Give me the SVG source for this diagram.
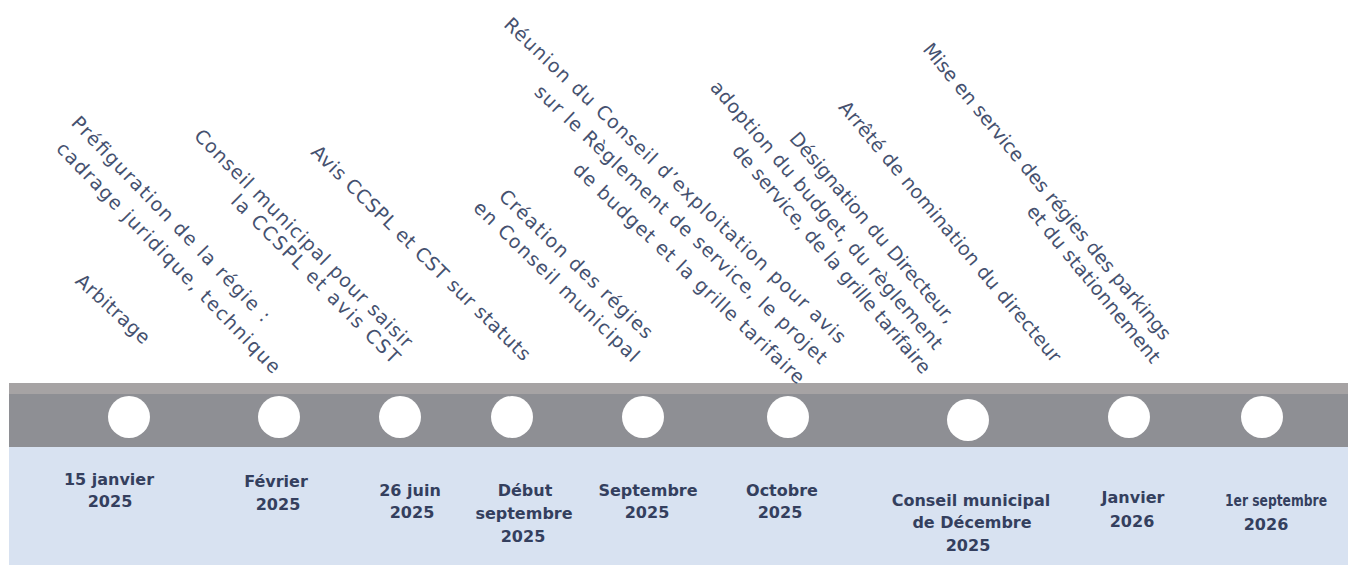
<svg xmlns="http://www.w3.org/2000/svg" width="1348" height="565" viewBox="0 0 1348 565">
<style>
.desc{font-family:"DejaVu Sans","Liberation Sans",sans-serif;font-size:19px;fill:#45516f;text-anchor:middle}
.date{font-family:"DejaVu Sans","Liberation Sans",sans-serif;font-size:16px;font-weight:bold;fill:#343f5e;text-anchor:middle}
.dot{fill:#ffffff}
</style>
<rect x="0" y="0" width="1348" height="565" fill="#ffffff"/>
<g id="timeline-bar">
<rect x="9" y="383" width="1339" height="64" fill="#8e8f94"/>
<rect x="9" y="383" width="1339" height="11" fill="#a6a3a4"/>
<rect x="9" y="447" width="1339" height="118" fill="#d8e2f1"/>
</g>
<g id="m1">
<circle class="dot" cx="129" cy="417" r="21"/>
<text class="date" x="109" y="485">15 janvier</text>
<text class="date" x="110" y="507">2025</text>
<text class="desc" transform="translate(112,310) rotate(42.5)" y="5" textLength="93" lengthAdjust="spacing">Arbitrage</text>
</g>
<g id="m2">
<circle class="dot" cx="279" cy="417" r="21"/>
<text class="date" x="276" y="487">Février</text>
<text class="date" x="278" y="510">2025</text>
<text class="desc" transform="translate(170,220) rotate(46)" y="5" textLength="277" lengthAdjust="spacing">Préfiguration de la régie :</text>
<text class="desc" transform="translate(167.5,258.5) rotate(46)" y="5" textLength="313" lengthAdjust="spacing">cadrage juridique, technique</text>
</g>
<g id="m3">
<circle class="dot" cx="400" cy="417" r="21"/>
<text class="date" x="410" y="496">26 juin</text>
<text class="date" x="412" y="518">2025</text>
<text class="desc" transform="translate(302.5,239.5) rotate(45)" y="5" textLength="300" lengthAdjust="spacing">Conseil municipal pour saisir</text>
<text class="desc" transform="translate(314.5,280) rotate(45)" y="5" textLength="230" lengthAdjust="spacing">la CCSPL et avis CST</text>
</g>
<g id="m4">
<circle class="dot" cx="512" cy="417" r="21"/>
<text class="date" x="525" y="496">Début</text>
<text class="date" x="524" y="519">septembre</text>
<text class="date" x="523" y="542">2025</text>
<text class="desc" transform="translate(420,254) rotate(44.4)" y="5" textLength="298" lengthAdjust="spacing">Avis CCSPL et CST sur statuts</text>
</g>
<g id="m5">
<circle class="dot" cx="643" cy="417" r="21"/>
<text class="date" x="648" y="496">Septembre</text>
<text class="date" x="647" y="518">2025</text>
<text class="desc" transform="translate(575,265) rotate(44)" y="5" textLength="205" lengthAdjust="spacing">Création des régies</text>
<text class="desc" transform="translate(555.5,282.5) rotate(44)" y="5" textLength="222" lengthAdjust="spacing">en Conseil municipal</text>
</g>
<g id="m6">
<circle class="dot" cx="788" cy="417" r="21"/>
<text class="date" x="782" y="496">Octobre</text>
<text class="date" x="780" y="518">2025</text>
<text class="desc" transform="translate(674,181.5) rotate(43.5)" y="5" textLength="463" lengthAdjust="spacing">Réunion du Conseil d’exploitation pour avis</text>
<text class="desc" transform="translate(680,225.5) rotate(43.5)" y="5" textLength="395" lengthAdjust="spacing">sur le Règlement de service, le projet</text>
<text class="desc" transform="translate(688,274.5) rotate(43.5)" y="5" textLength="311" lengthAdjust="spacing">de budget et la grille tarifaire</text>
</g>
<g id="m7">
<circle class="dot" cx="968" cy="420" r="21"/>
<text class="date" x="971" y="506">Conseil municipal</text>
<text class="date" x="972" y="528">de Décembre</text>
<text class="date" x="968" y="551">2025</text>
<text class="desc" transform="translate(871.5,228.5) rotate(49.5)" y="5" textLength="244" lengthAdjust="spacing">Désignation du Directeur,</text>
<text class="desc" transform="translate(825.5,216) rotate(49.5)" y="5" textLength="346" lengthAdjust="spacing">adoption du budget, du règlement</text>
<text class="desc" transform="translate(830.5,260) rotate(49.5)" y="5" textLength="294" lengthAdjust="spacing">de service, de la grille tarifaire</text>
</g>
<g id="m8">
<circle class="dot" cx="1129" cy="417" r="21"/>
<text class="date" x="1133" y="503">Janvier</text>
<text class="date" x="1132" y="527">2026</text>
<text class="desc" transform="translate(949,232.5) rotate(50)" y="5" textLength="334" lengthAdjust="spacing">Arrêté de nomination du directeur</text>
</g>
<g id="m9">
<circle class="dot" cx="1262" cy="417" r="21"/>
<text class="date" x="1276" y="506" style="font-size:15px" textLength="102" lengthAdjust="spacingAndGlyphs">1er septembre</text>
<text class="date" x="1266" y="530">2026</text>
<text class="desc" transform="translate(1046,192.5) rotate(50.5)" y="5" textLength="378" lengthAdjust="spacing">Mise en service des régies des parkings</text>
<text class="desc" transform="translate(1092.5,285) rotate(50.5)" y="5" textLength="198" lengthAdjust="spacing">et du stationnement</text>
</g>
</svg>
